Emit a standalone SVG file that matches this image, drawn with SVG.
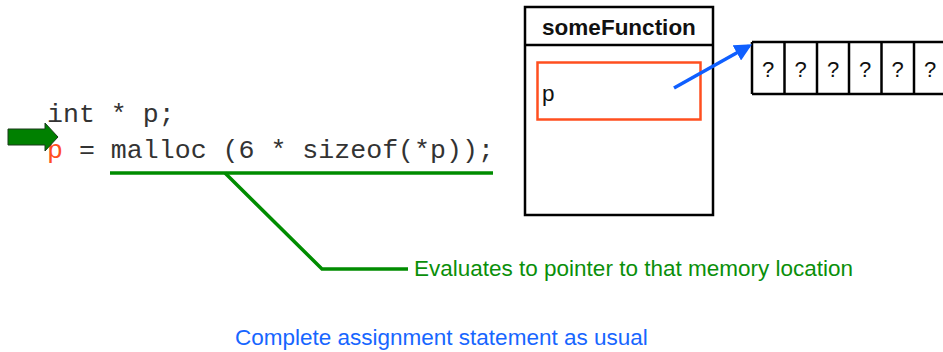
<svg xmlns="http://www.w3.org/2000/svg" width="943" height="352" viewBox="0 0 943 352">
  <style>
    .code { font-family: "Liberation Mono", "Courier New", monospace; font-size: 26.6px; fill: #333; }
    .sans { font-family: "Liberation Sans", Arial, sans-serif; font-size: 22.5px; }
    .box { fill: #fff; stroke: #000; stroke-width: 2.5; }
    .rule { stroke: #000; stroke-width: 2.5; }
    .q { font-family: "Liberation Sans", Arial, sans-serif; font-size: 22px; fill: #111; text-anchor: middle; }
    .callout { fill: none; stroke: #008c00; stroke-width: 3.5; }
  </style>
  <defs>
    <marker id="blueHead" markerWidth="5" markerHeight="5" refX="4" refY="2.5" orient="auto" markerUnits="strokeWidth">
      <path d="M0,0 L5,2.5 L0,5 Z" fill="#0f5fff"/>
    </marker>
  </defs>

  <!-- code lines -->
  <g id="code">
    <text class="code" x="47" y="122" xml:space="preserve">int * p;</text>
    <text class="code" x="47" y="158" xml:space="preserve"><tspan fill="#ff4f1f">p</tspan> = malloc (6 * sizeof(*p));</text>
  </g>

  <!-- current-line marker -->
  <g id="line-marker">
    <path d="M8,129 H45 V123 L58,137 L45,151 V145 H8 Z" fill="#008000" stroke="#1a3a1a" stroke-width="1"/>
  </g>

  <!-- stack frame -->
  <g id="someFunction">
    <rect class="box" x="525" y="7" width="188" height="208"/>
    <line class="rule" x1="525" y1="45" x2="713" y2="45"/>
    <text class="sans" x="619" y="35" text-anchor="middle" font-weight="bold" fill="#111">someFunction</text>
  </g>

  <g id="var-p">
    <rect x="537.5" y="62.5" width="163" height="57" fill="none" stroke="#ff4f1f" stroke-width="2.5"/>
    <text class="sans" x="542" y="101" fill="#111">p</text>
  </g>

  <!-- heap block of six cells -->
  <g id="heap-block">
    <line class="rule" x1="752" y1="42" x2="943" y2="42"/>
    <line class="rule" x1="752" y1="94" x2="943" y2="94"/>
    <line class="rule" x1="752" y1="42" x2="752" y2="94"/>
    <line class="rule" x1="784.5" y1="42" x2="784.5" y2="94"/>
    <line class="rule" x1="817" y1="42" x2="817" y2="94"/>
    <line class="rule" x1="849" y1="42" x2="849" y2="94"/>
    <line class="rule" x1="881.5" y1="42" x2="881.5" y2="94"/>
    <line class="rule" x1="914" y1="42" x2="914" y2="94"/>
    <text class="q" x="768" y="77">?</text>
    <text class="q" x="800.5" y="77">?</text>
    <text class="q" x="833" y="77">?</text>
    <text class="q" x="865" y="77">?</text>
    <text class="q" x="897.5" y="77">?</text>
    <text class="q" x="930" y="77">?</text>
  </g>

  <!-- connectors -->
  <g id="connectors">
    <line x1="674" y1="88" x2="749" y2="46" stroke="#0f5fff" stroke-width="3.5" marker-end="url(#blueHead)"/>
    <polyline class="callout" points="110,173 493,173"/>
    <polyline class="callout" points="225,173 322,269 408,269"/>
  </g>

  <!-- annotations -->
  <g id="notes">
    <text class="sans" x="414" y="276" fill="#0a8f0a">Evaluates to pointer to that memory location</text>
    <text class="sans" x="235" y="345" fill="#1766ff">Complete assignment statement as usual</text>
  </g>
</svg>
